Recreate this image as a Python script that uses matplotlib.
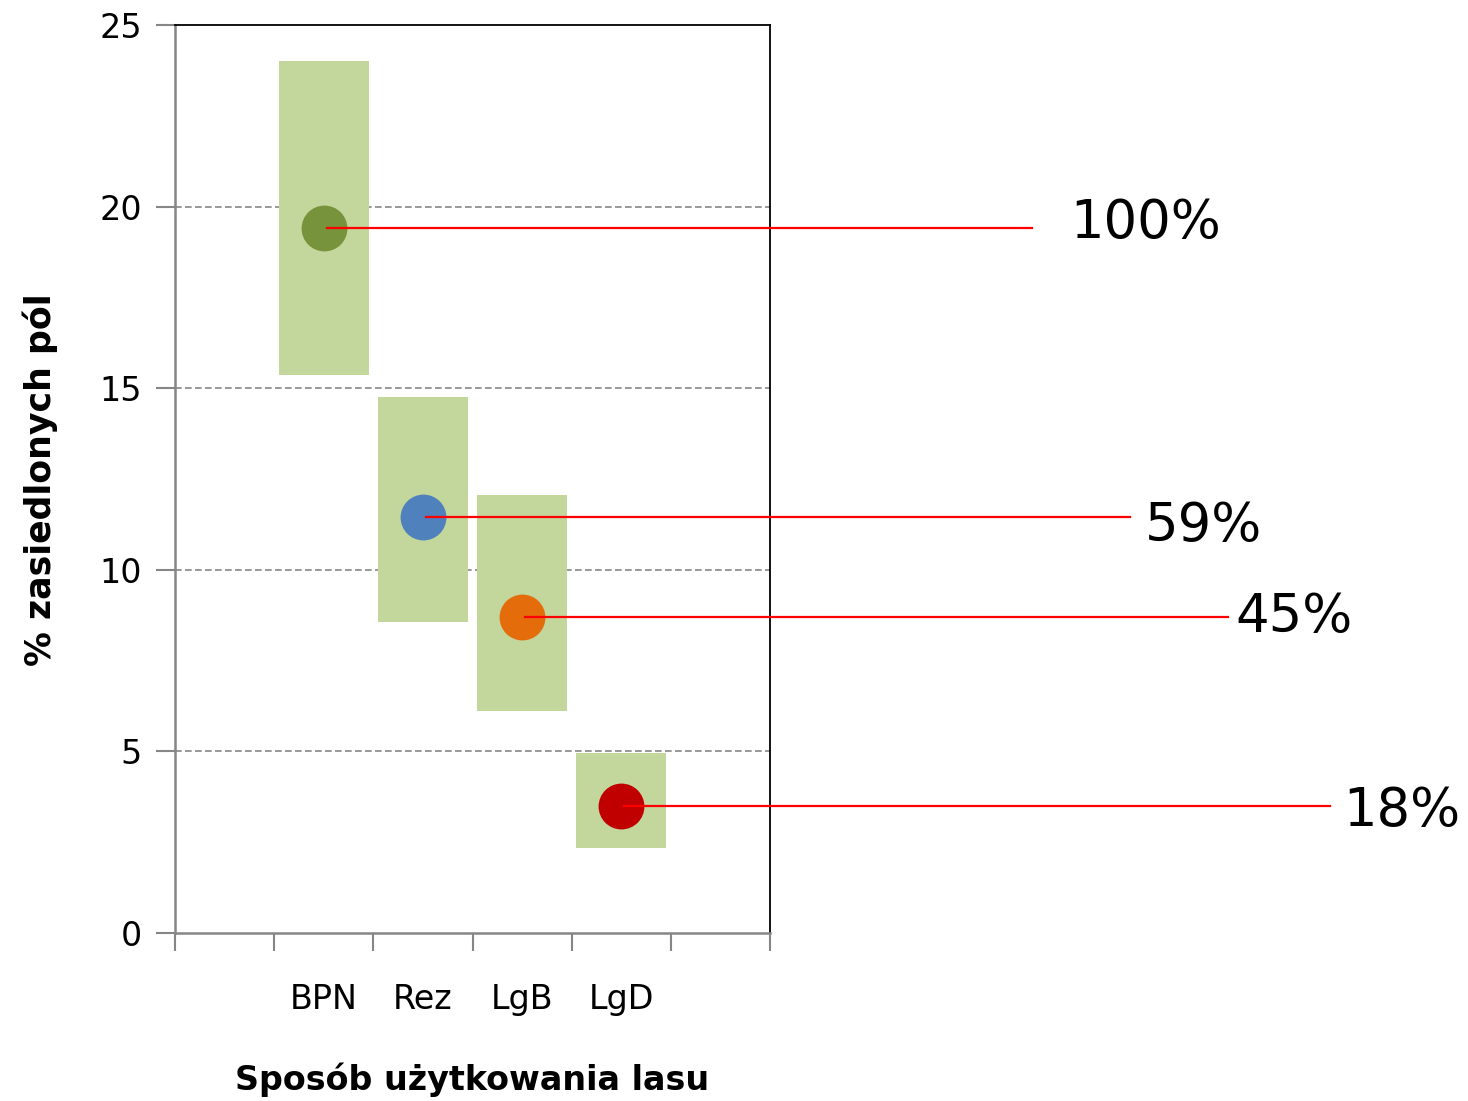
import matplotlib
matplotlib.use("Agg")
import matplotlib.pyplot as plt
import numpy as np

CATEGORIES = ["BPN", "Rez", "LgB", "LgD"]
MEANS = [19.4, 11.45, 8.7, 3.5]
LOWS = [15.35, 8.55, 6.1, 2.35]
HIGHS = [24.0, 14.75, 12.05, 4.95]
PERCENT_LABELS = ["100%", "59%", "45%", "18%"]
POINT_COLORS = ["#77933C", "#4F81BD", "#E46C0A", "#C00000"]

# label placement (data coords, outside the axes)
LINE_ENDS = [8.64, 9.63, 10.62, 11.65]
LABEL_X = [9.03, 9.78, 10.69, 11.78]
LABEL_Y = [19.55, 11.2, 8.7, 3.35]

plt.rcParams["font.family"] = ["DejaVu Sans"]

fig = plt.figure(figsize=(14.68, 11.01), dpi=100)
ax = fig.add_axes([175 / 1468, 168 / 1101, 595 / 1468, 908 / 1101])

xs = np.arange(len(CATEGORIES)) + 1.5
ax.bar(xs, np.array(HIGHS) - np.array(LOWS), bottom=LOWS, width=0.91,
       color="#C3D69B", zorder=2)
for x, m, c in zip(xs, MEANS, POINT_COLORS):
    ax.plot(x, m, "o", color=c, markersize=33, markeredgewidth=0, zorder=3)

for x, m, x_end, lx, ly, lab in zip(xs, MEANS, LINE_ENDS, LABEL_X, LABEL_Y, PERCENT_LABELS):
    ax.plot([x + 0.03, x_end], [m, m], color="#FF0000", linewidth=1.6,
            clip_on=False, zorder=4)
    ax.text(lx, ly, lab, fontsize=38, va="center", ha="left", clip_on=False)

ax.set_xlim(0, 6)
ax.set_ylim(0, 25)
ax.set_yticks([0, 5, 10, 15, 20, 25])
ax.set_xticks(np.arange(0, 7))
ax.set_xticklabels([])
ax.set_xticks(xs, minor=True)
ax.set_xticklabels(CATEGORIES, minor=True, fontsize=24)
ax.tick_params(axis="x", which="minor", length=0, pad=36)
ax.tick_params(axis="x", which="major", length=13, color="#868686", width=1.5)
ax.tick_params(axis="y", length=14, color="#868686", width=1.5, labelsize=24, pad=10)

for y in [5, 10, 15, 20]:
    ax.axhline(y, color="#868686", linestyle=(0, (4, 2)), linewidth=1.2, zorder=1)

ax.spines["left"].set_color("#868686")
ax.spines["bottom"].set_color("#868686")
ax.spines["left"].set_linewidth(1.8)
ax.spines["bottom"].set_linewidth(1.8)
ax.spines["top"].set_linewidth(1.3)
ax.spines["right"].set_linewidth(1.3)

ax.set_xlabel("Sposób użytkowania lasu", fontsize=24, fontweight="bold", va="center")
ax.xaxis.set_label_coords(0.5, -(1080 - 933) / 908)
ax.set_ylabel("% zasiedlonych pól", fontsize=25, fontweight="bold", va="center")
ax.yaxis.set_label_coords(-(175 - 40) / 595, (933 - 480) / 908)

fig.savefig("out.png", dpi=100)
